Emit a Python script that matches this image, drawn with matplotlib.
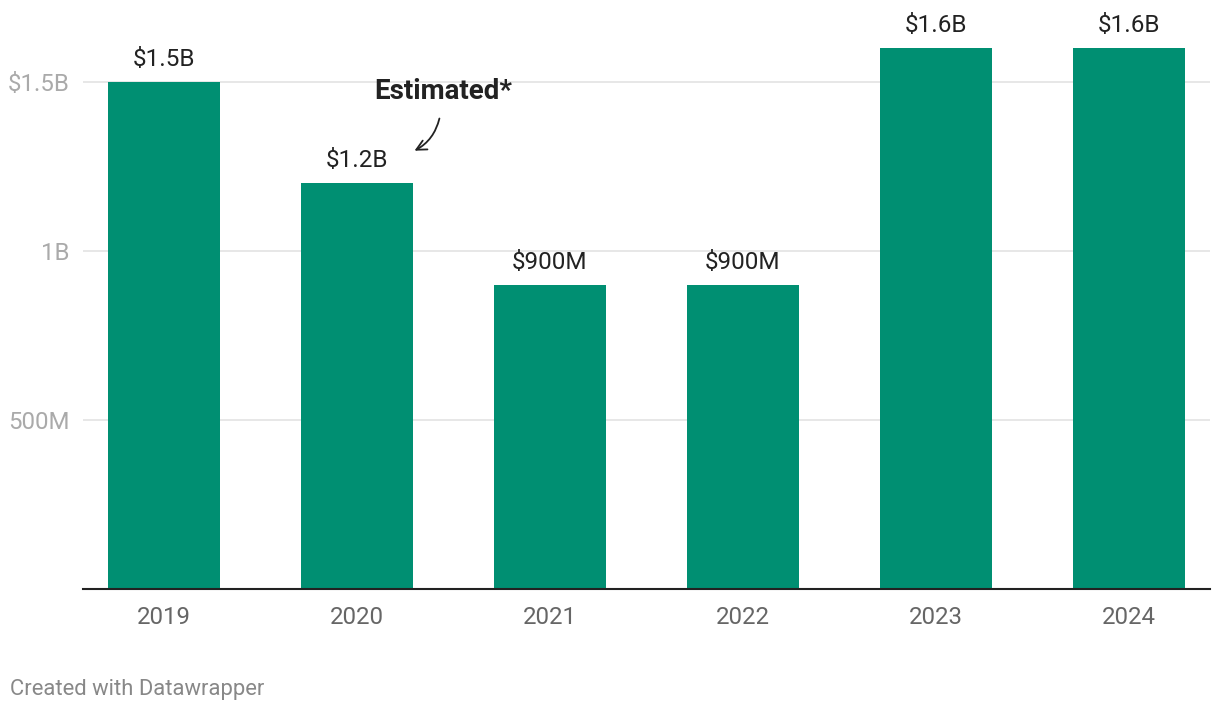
import matplotlib
matplotlib.use("Agg")
import matplotlib.pyplot as plt

years = ["2019", "2020", "2021", "2022", "2023", "2024"]
values = [1.5, 1.2, 0.9, 0.9, 1.6, 1.6]  # billions
value_labels = ["$1.5B", "$1.2B", "$900M", "$900M", "$1.6B", "$1.6B"]
yticks = [0.5, 1.0, 1.5]
ytick_labels = ["500M", "1B", "$1.5B"]

plt.rcParams['font.family'] = ['Roboto', 'DejaVu Sans']

W, H = 1220, 712
fig = plt.figure(figsize=(W/100, H/100), dpi=100)
left, right, bottom, top = 83, 1210, 589, 20
ax = fig.add_axes([left/W, 1 - bottom/H, (right-left)/W, (bottom-top)/H])

x = list(range(len(years)))
ax.bar(x, values, width=0.58, color="#008f72", zorder=2)
ax.set_xlim(-0.42, 5.42)
ax.set_ylim(0, (bottom-top)/338)

for xi, v, lab in zip(x, values, value_labels):
    ax.annotate(lab, (xi, v), xytext=(0, 8), textcoords="offset points",
                ha="center", va="bottom", fontsize=17.5, color="#222222")

ax.set_yticks(yticks)
ax.set_yticklabels(ytick_labels)
ax.set_xticks(x)
ax.set_xticklabels(years)
ax.tick_params(axis="y", length=0, pad=9.5, labelsize=17.3, labelcolor="#aaaaaa")
ax.tick_params(axis="x", length=0, pad=12, labelsize=17.3, labelcolor="#666666")
ax.grid(axis="y", color="#e3e3e3", linewidth=1.2, zorder=0)
for s in ["top", "right", "left"]:
    ax.spines[s].set_visible(False)
ax.spines["bottom"].set_color("#222222")
ax.spines["bottom"].set_linewidth(1.5)
ax.spines["bottom"].set_zorder(3)

ax.text(1.446, 1.473, "Estimated*", ha="center", va="center", fontsize=20,
        fontweight="bold", color="#222222")
ax.annotate("", xy=(1.285, 1.293), xytext=(1.43, 1.4),
            arrowprops=dict(arrowstyle="->", color="#222222", lw=1.3,
                            connectionstyle="arc3,rad=-0.25", mutation_scale=18))

fig.text(10/W, 1 - 689/H, "Created with Datawrapper", ha="left", va="center",
         fontsize=15.8, color="#888888")

fig.savefig("out.png", dpi=100)
